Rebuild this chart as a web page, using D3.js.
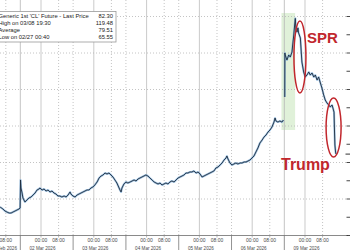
<!DOCTYPE html>
<html>
<head>
<meta charset="utf-8">
<script src="https://cdn.jsdelivr.net/npm/d3@7"></script>
<style>
  body { margin: 0; background: #fff; }
  svg { display: block; }
</style>
</head>
<body>
<svg id="chart" width="350" height="250"></svg>
<script>
// axis hours: 0 = 02 Mar 00:00, weekend gaps compressed (session view)
const days = ['27 Feb 2026', '02 Mar 2026', '03 Mar 2026', '04 Mar 2026', '05 Mar 2026', '06 Mar 2026', '09 Mar 2026'];
const dayStart = [-24, 0, 24, 48, 72, 96, 120];
const sessionBreak = -9.4; // session start relative to 00:00
const weekendDays = [1, 6];
const timeTicks = ['00:00', '08:00'];
const priceGrid = [60, 70, 80, 90, 100, 110, 120];

const hours = [
  -18.6, -17.3, -16.4, -15.5, -14.5, -13.6, -12.7, -11.8, -10.9, -10.0, -9.5,
  -9.3, -9.1, -8.6, -8.2, -7.3, -6.4, -5.5, -4.5, -3.6, -2.7, -1.8, -0.9, -0.5,
  0.5, 1.4, 2.3, 3.2, 4.1, 5.0, 5.9, 6.8, 7.7, 8.6, 9.5, 10.5, 11.4, 12.3, 13.2, 13.6,
  14.5, 15.5, 16.4, 17.3, 18.2, 19.1, 20.0, 20.9, 21.8, 22.7, 23.6,
  24.5, 25.5, 26.4, 27.3, 28.2, 29.1, 30.0, 30.9, 31.8, 32.7, 33.6, 34.5, 35.5, 35.9, 36.4, 36.8, 37.7,
  38.6, 39.5, 40.5, 41.4, 42.3, 43.2, 44.1, 45.0, 45.9, 46.8, 47.7,
  48.6, 49.5, 50.5, 51.4, 52.3, 53.2, 54.1, 55.0, 55.9, 56.8, 57.7, 58.6, 59.5, 60.5, 61.4,
  62.3, 63.2, 64.1, 65.0, 65.9, 66.8, 67.7, 68.6, 69.5, 70.5, 71.4,
  72.3, 73.2, 74.1, 75.0, 75.9, 76.8, 77.7, 78.6, 79.5, 80.5, 81.4, 82.3, 83.2, 84.1, 84.5, 85.0,
  85.9, 86.8, 87.7, 88.6, 89.5, 90.5, 91.4, 92.3, 93.2, 94.1, 95.0, 95.9,
  96.8, 97.7, 98.6, 99.5, 100.5, 101.4, 102.3, 103.2, 104.1, 105.0, 105.9, 106.4, 106.8, 107.7, 108.6, 109.5, 110.2,
  110.5,
  110.8, 110.85, 111.0, 111.8, 112.6, 113.3, 114.1, 114.4, 114.9, 115.3, 115.6, 115.9, 116.4, 116.8, 117.1, 117.9,
  118.3, 118.6, 119.4, 120.1, 120.9, 121.7, 122.4, 123.2, 124.0, 124.7, 125.5, 126.2, 127.0, 127.7,
  128.5, 129.2, 130.0, 130.8, 131.5, 132.3, 132.7, 133.2, 133.4, 133.6, 133.9, 134.1
];
const prices = [
  67.81, 67.26, 66.71, 66.44, 66.16, 66.16, 66.44, 66.71, 66.99, 67.26, 67.53,
  75.21, 73.01, 71.64, 70.27, 69.18, 69.73, 70.27, 70.55, 71.10, 71.64, 72.47, 72.74, 73.01,
  72.47, 72.74, 72.19, 72.47, 71.92, 72.19, 71.64, 71.37, 70.82, 70.82, 70.55, 70.82, 70.55, 71.10, 71.92, 71.37,
  70.82, 70.55, 71.10, 71.37, 71.64, 71.92, 72.19, 72.47, 72.47, 73.01, 73.29,
  73.84, 74.66, 75.75, 76.30, 76.58, 77.12, 76.85, 77.12, 76.58, 76.03, 75.21, 74.38, 73.01, 72.47, 71.92, 73.01, 74.11,
  74.66, 74.38, 74.66, 74.93, 75.21, 74.93, 75.48, 75.75, 76.03, 76.30, 76.58,
  76.30, 75.75, 75.21, 74.66, 74.38, 74.11, 74.38, 73.84, 74.11, 74.38, 74.11, 74.66, 74.93, 74.66, 75.21,
  75.75, 76.03, 76.30, 76.58, 77.12, 77.12, 77.40, 77.40, 77.67, 77.12, 77.40,
  76.85, 76.03, 76.30, 76.58, 76.85, 77.12, 77.40, 77.67, 78.49, 78.77, 79.32, 79.86, 80.68, 81.23, 81.78, 80.96,
  79.86, 79.32, 79.59, 79.86, 79.59, 79.86, 79.86, 80.14, 80.14, 80.41, 80.68, 81.23,
  81.78, 82.88, 83.97, 85.34, 86.16, 86.99, 87.53, 88.36, 88.90, 89.73, 91.08, 92.19, 91.37, 91.08, 91.37, 91.08, 91.64,
  null,
  97.95, 110.00, 109.45, 108.08, 109.45, 108.90, 110.27, 112.19, 114.93, 117.67, 119.48, 116.30, 115.75, 116.85, 115.48, 114.11,
  110.27, 107.53, 104.79, 103.42, 103.97, 104.79, 103.97, 104.52, 103.42, 103.97, 102.60, 103.42, 101.78, 100.41,
  98.49, 97.12, 96.30, 95.75, 95.21, 95.75, 94.93, 93.80, 88.90, 84.79, 82.88, 82.30
];

const legendLabels = ["Generic 1st 'CL' Future - Last Price", 'High on 03/08 19:30', 'Average', 'Low on 02/27 00:40'];
const legendValues = ['82.30', '119.48', '79.51', '65.55'];
const lastPrice = 82.30;

const highlight = [109.3, 115.5]; // Sunday open, shaded green
const annotations = [
  { label: 'SPR', h: 117.7, p: 108.9, textH: 120.9, textP: 112.7, rx: 6, ry: 36, size: 15 },
  { label: 'Trump', h: 133.0, p: 89.6, textH: 109.1, textP: 78.0, rx: 7.5, ry: 29.5, size: 16 }
];

const svg = d3.select('#chart');
const x = d3.scaleLinear().domain([-18.64, 139.55]).range([0, 348]);
const y = d3.scaleLinear().domain([60, 120]).range([235.5, 16.5]);
const red = '#c1272d';

// green band
svg.append('rect')
  .attr('x', x(highlight[0])).attr('width', x(highlight[1]) - x(highlight[0]))
  .attr('y', 13).attr('height', 117)
  .attr('fill', '#dbeed2').attr('opacity', 0.85);

// vertical grid: solid at 00:00, dotted at 08:00 and session breaks
const vgrid = svg.append('g');
dayStart.forEach((h0, i) => {
  vgrid.append('line').attr('x1', x(h0)).attr('x2', x(h0)).attr('y1', 0).attr('y2', 235)
    .attr('stroke', '#bcbcbc').attr('stroke-width', 0.8);
  vgrid.append('line').attr('x1', x(h0 + 8)).attr('x2', x(h0 + 8)).attr('y1', 0).attr('y2', 235)
    .attr('stroke', '#b5b5b5').attr('stroke-width', 0.8).attr('stroke-dasharray', '1,2');
  const sb = h0 + sessionBreak;
  vgrid.append('line').attr('x1', x(sb)).attr('x2', x(sb)).attr('y1', 0).attr('y2', 235)
    .attr('stroke', '#b5b5b5').attr('stroke-width', 0.8)
    .attr('stroke-dasharray', weekendDays.includes(i) ? null : '1,2');
});

// horizontal grid
svg.append('g').selectAll('line').data(priceGrid.slice(1)).join('line')
  .attr('x1', 0).attr('x2', 347).attr('y1', d => y(d)).attr('y2', d => y(d))
  .attr('stroke', '#b5b5b5').attr('stroke-width', 0.8).attr('stroke-dasharray', '1,2');

// bottom axis
svg.append('line').attr('x1', 0).attr('x2', 348).attr('y1', 235.5).attr('y2', 235.5)
  .attr('stroke', '#8a8a8a').attr('stroke-width', 1);

const xa = svg.append('g').attr('font-family', 'Liberation Sans, Arial, sans-serif')
  .attr('font-size', 5.3).attr('fill', '#4a4a4a');
dayStart.forEach((h0, i) => {
  const sb = x(h0 + sessionBreak);
  xa.append('line').attr('x1', sb).attr('x2', sb).attr('y1', 235).attr('y2', 250)
    .attr('stroke', '#777').attr('stroke-width', 0.8);
  timeTicks.forEach((t, k) => {
    const tx = x(h0 + k * 8);
    xa.append('line').attr('x1', tx).attr('x2', tx).attr('y1', 235.5).attr('y2', 237.5)
      .attr('stroke', '#888').attr('stroke-width', 0.6);
    xa.append('text').attr('x', tx).attr('y', 242).attr('text-anchor', 'middle')
      .attr('textLength', 12.5).attr('lengthAdjust', 'spacingAndGlyphs').text(t);
  });
  const left = Math.max(x(h0) + 1.5 - 13, -9);
  xa.append('text').attr('x', left).attr('y', 249.5)
    .attr('textLength', 26).attr('lengthAdjust', 'spacingAndGlyphs').text(days[i]);
});

// right axis ticks
svg.append('g').selectAll('line').data(d3.range(60, 121, 5)).join('line')
  .attr('x1', 346.5).attr('x2', 350).attr('y1', d => y(d)).attr('y2', d => y(d))
  .attr('stroke', '#333').attr('stroke-width', 0.9);
svg.append('line').attr('x1', 345.5).attr('x2', 350).attr('y1', y(lastPrice)).attr('y2', y(lastPrice))
  .attr('stroke', '#333').attr('stroke-width', 1);

// price line
const pts = hours.map((h, i) => ({ h, p: prices[i] }));
const line = d3.line().defined(d => d.p != null).x(d => x(d.h)).y(d => y(d.p));
svg.append('path').datum(pts).attr('d', line)
  .attr('fill', 'none').attr('stroke', '#86b2da').attr('stroke-width', 2.1)
  .attr('stroke-linejoin', 'round').attr('opacity', 0.75);
svg.append('path').datum(pts).attr('d', line)
  .attr('fill', 'none').attr('stroke', '#1c2b3d').attr('stroke-width', 0.9)
  .attr('stroke-linejoin', 'round');

// legend box
const lg = svg.append('g').attr('font-family', 'Liberation Sans, Arial, sans-serif')
  .attr('font-size', 5.8).attr('fill', '#222');
lg.append('rect').attr('x', -1).attr('y', 11.5).attr('width', 117).attr('height', 30.5)
  .attr('fill', '#fff').attr('stroke', '#9a9a9a').attr('stroke-width', 0.8);
legendLabels.forEach((t, i) => {
  lg.append('text').attr('x', -1.5).attr('y', 18 + i * 7).text(t);
  lg.append('text').attr('x', 113).attr('y', 18 + i * 7).attr('text-anchor', 'end').text(legendValues[i]);
});

// annotations
annotations.forEach(a => {
  svg.append('ellipse').attr('cx', x(a.h)).attr('cy', y(a.p)).attr('rx', a.rx).attr('ry', a.ry)
    .attr('fill', 'none').attr('stroke', red).attr('stroke-width', 1.5);
  svg.append('text').attr('x', x(a.textH)).attr('y', y(a.textP))
    .attr('font-family', 'Liberation Sans, Arial, sans-serif').attr('font-weight', 'bold')
    .attr('font-size', a.size).attr('fill', red).text(a.label);
});
</script>
</body>
</html>
